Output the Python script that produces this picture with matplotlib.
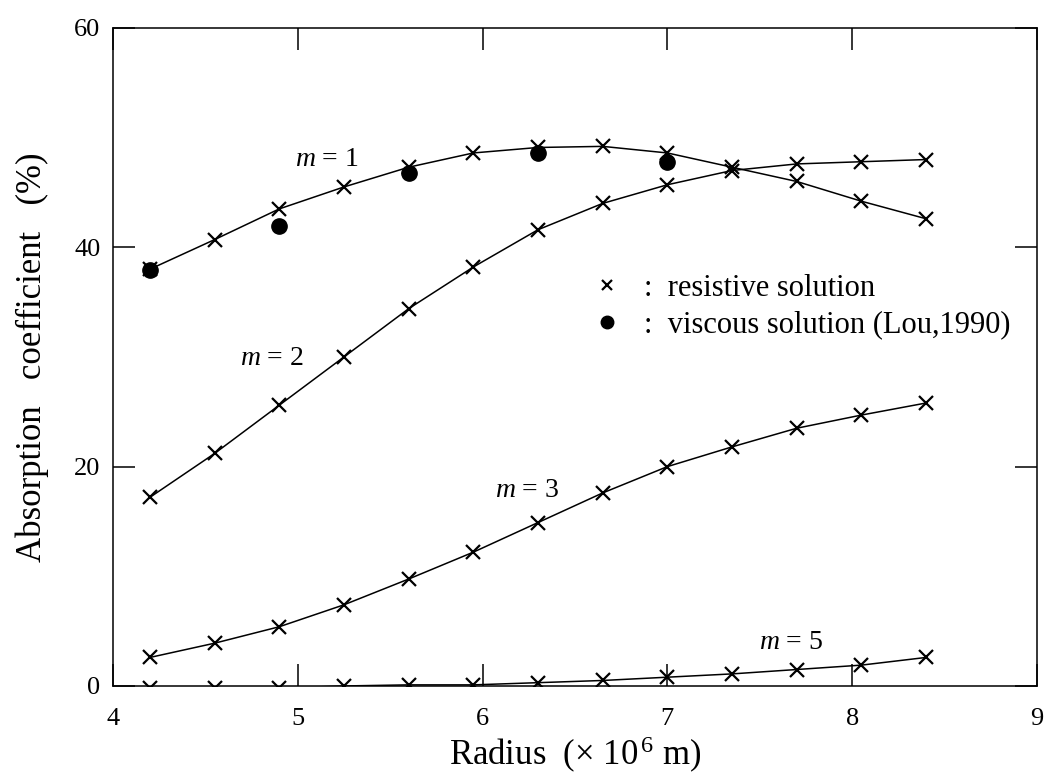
import matplotlib
matplotlib.use('Agg')
import matplotlib.pyplot as plt
from matplotlib.lines import Line2D

plt.rcParams['font.family'] = ['Liberation Serif', 'DejaVu Serif']
plt.rcParams['mathtext.fontset'] = 'custom'
plt.rcParams['mathtext.rm'] = 'Liberation Serif'
plt.rcParams['mathtext.it'] = 'Liberation Serif:italic'

# radius in units of 10^6 m
radius = [4.2, 4.55, 4.9, 5.25, 5.6, 5.95, 6.3, 6.65, 7.0, 7.35, 7.7, 8.05, 8.4]

# resistive solution, absorption coefficient (%)
m1 = [38.0, 40.7, 43.5, 45.5, 47.3, 48.6, 49.1, 49.2, 48.6, 47.3, 46.0, 44.2, 42.6]
m2 = [17.2, 21.2, 25.6, 30.0, 34.4, 38.2, 41.6, 44.0, 45.7, 47.0, 47.6, 47.8, 48.0]
m3 = [2.6, 3.9, 5.4, 7.4, 9.75, 12.2, 14.9, 17.6, 20.0, 21.8, 23.5, 24.7, 25.8]
m5 = [-0.2, -0.2, -0.2, 0.0, 0.1, 0.1, 0.3, 0.5, 0.8, 1.1, 1.5, 1.9, 2.6]

# viscous solution (Lou, 1990), m = 1
radius_visc = [4.2, 4.9, 5.6, 6.3, 7.0]
m1_visc = [37.9, 41.9, 46.8, 48.6, 47.8]

curve_labels = [r'$m$ = 1', r'$m$ = 2', r'$m$ = 3', r'$m$ = 5']
label_pos = [(5.16, 48.0), (4.86, 29.9), (6.24, 17.8), (7.67, 4.0)]

xticks = [4, 5, 6, 7, 8, 9]
yticks = [0, 20, 40, 60]

fig = plt.figure(figsize=(10.45, 7.78), dpi=100)
ax = fig.add_axes([0.1081, 0.1183, 0.8842, 0.8458])

for series in [m1, m2, m3, m5]:
    ax.plot(radius, series, color='black', lw=1.1, marker='x', ms=10, mew=1.6)

ax.plot(radius_visc, m1_visc, 'o', color='black', ms=11, ls='none')

for txt, (xp, yp) in zip(curve_labels, label_pos):
    ax.text(xp, yp, txt, fontsize=20, ha='center', va='center')

ax.set_xlim(4, 9)
ax.set_ylim(0, 60)
ax.set_xticks(xticks)
ax.set_yticks(yticks)

for sp in ax.spines.values():
    sp.set_linewidth(1.1)

ax.tick_params(direction='in', length=16, width=1.1, top=True, right=True, labelsize=19)
ax.tick_params(axis='x', pad=16)
ax.tick_params(axis='y', pad=9)

ax.set_xlabel(u'Radius  (\u00d7 10$^{\\,6}$ m)', fontsize=25)
ax.xaxis.label.set_va('baseline')
ax.xaxis.set_label_coords(0.5, -0.12)

ax.set_ylabel('Absorption   coefficient   (%)', fontsize=25)
ax.yaxis.set_label_coords(-0.069, 0.5)

handles = [Line2D([], [], color='black', marker='x', ls='none', ms=7, mew=1.6),
           Line2D([], [], color='black', marker='o', ls='none', ms=9)]
labels = [':  resistive solution', ':  viscous solution (Lou,1990)']
ax.legend(handles, labels, loc='upper left', bbox_to_anchor=(0.518, 0.626), frameon=False,
          fontsize=22, handlelength=1.0, handletextpad=0.7, labelspacing=0.25,
          borderpad=0, borderaxespad=0)

fig.savefig('out.png', dpi=100)
